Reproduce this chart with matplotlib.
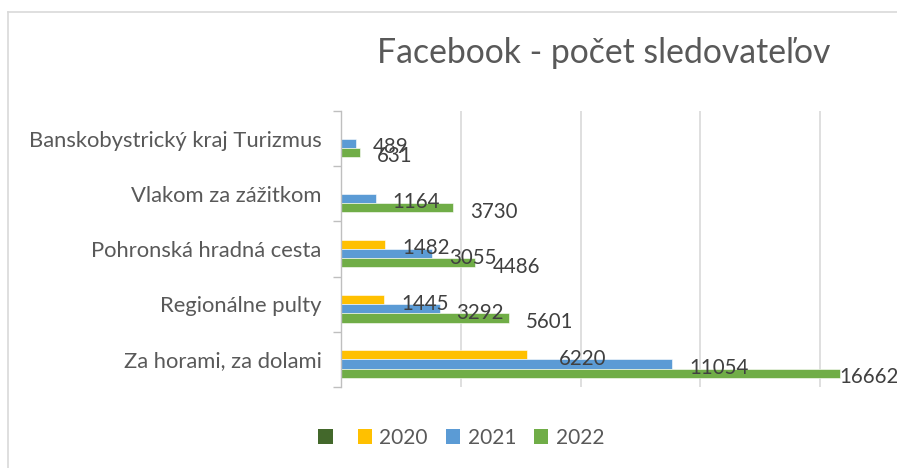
import matplotlib.pyplot as plt
from matplotlib.patches import Patch
from matplotlib.lines import Line2D

categories = ["Za horami, za dolami", "Regionálne pulty", "Pohronská hradná cesta",
              "Vlakom za zážitkom", "Banskobystrický kraj Turizmus"]
series_names = ["", "2020", "2021", "2022"]
v_empty = [None, None, None, None, None]
v2020 = [6220, 1445, 1482, None, None]
v2021 = [11054, 3292, 3055, 1164, 489]
v2022 = [16662, 5601, 4486, 3730, 631]
colors = ["#43682B", "#FFC000", "#5B9BD5", "#70AD47"]

plt.rcParams['font.family'] = ['Lato', 'DejaVu Sans']

fig = plt.figure(figsize=(8.97, 4.68), dpi=100)
ax = fig.add_axes([341 / 897, 1 - 387 / 468, (880 - 341) / 897, (387 - 111) / 468])

bar_h = 0.167
offsets = [1.5 * bar_h, 0.5 * bar_h, -0.5 * bar_h, -1.5 * bar_h]
all_vals = [v_empty, v2020, v2021, v2022]
for vals, off, col in zip(all_vals, offsets, colors):
    for i, v in enumerate(vals):
        if v is None:
            continue
        ax.barh(i + off, v, height=bar_h, color=col, edgecolor='white', linewidth=0.4)
        dx = 17
        if v == 6220:
            dx = 32
        if v == 16662:
            dx = -1
        ax.annotate(str(v), (v, i + off), xytext=(dx, -4), textcoords='offset pixels',
                    ha='left', va='center', fontsize=14.8, color='#404040')

ax.set_xlim(0, 18000)
ax.set_ylim(-0.5, len(categories) - 0.5)
ax.set_xticks([0, 4000, 8000, 12000, 16000])
ax.set_xticklabels([])
ax.tick_params(axis='x', length=0)
ax.grid(axis='x', color='#D9D9D9', linewidth=1.2)
ax.set_axisbelow(True)
ax.set_yticks(range(len(categories)))
ax.set_yticklabels(categories, fontsize=15.8, color='#595959')
ax.set_yticks([i - 0.5 for i in range(len(categories) + 1)], minor=True)
ax.tick_params(axis='y', which='major', length=0, pad=14)
ax.tick_params(axis='y', which='minor', length=6, color='#BFBFBF', width=1)
for s in ['top', 'right', 'bottom']:
    ax.spines[s].set_visible(False)
ax.spines['left'].set_color('#BFBFBF')
ax.spines['left'].set_linewidth(1)

fig.text(0.673, 0.886, "Facebook - počet sledovateľov", ha='center', va='center',
         fontsize=24.3, color='#595959')

handles = [Patch(facecolor=c, edgecolor='none') for c in colors]
fig.legend(handles, series_names, loc='center', bbox_to_anchor=(0.514, 1 - 438 / 468),
           ncol=4, frameon=False, fontsize=15, labelcolor='#595959',
           handlelength=0.7, handleheight=0.7, handletextpad=0.35, columnspacing=0.85)

# chart border (cut at right and bottom)
fig.add_artist(Line2D([8 / 897, 8 / 897], [0, 1 - 12 / 468], color='#D9D9D9', linewidth=1.2,
                      transform=fig.transFigure))
fig.add_artist(Line2D([8 / 897, 1], [1 - 12 / 468, 1 - 12 / 468], color='#D9D9D9', linewidth=1.2,
                      transform=fig.transFigure))

fig.savefig("out.png", dpi=100)
